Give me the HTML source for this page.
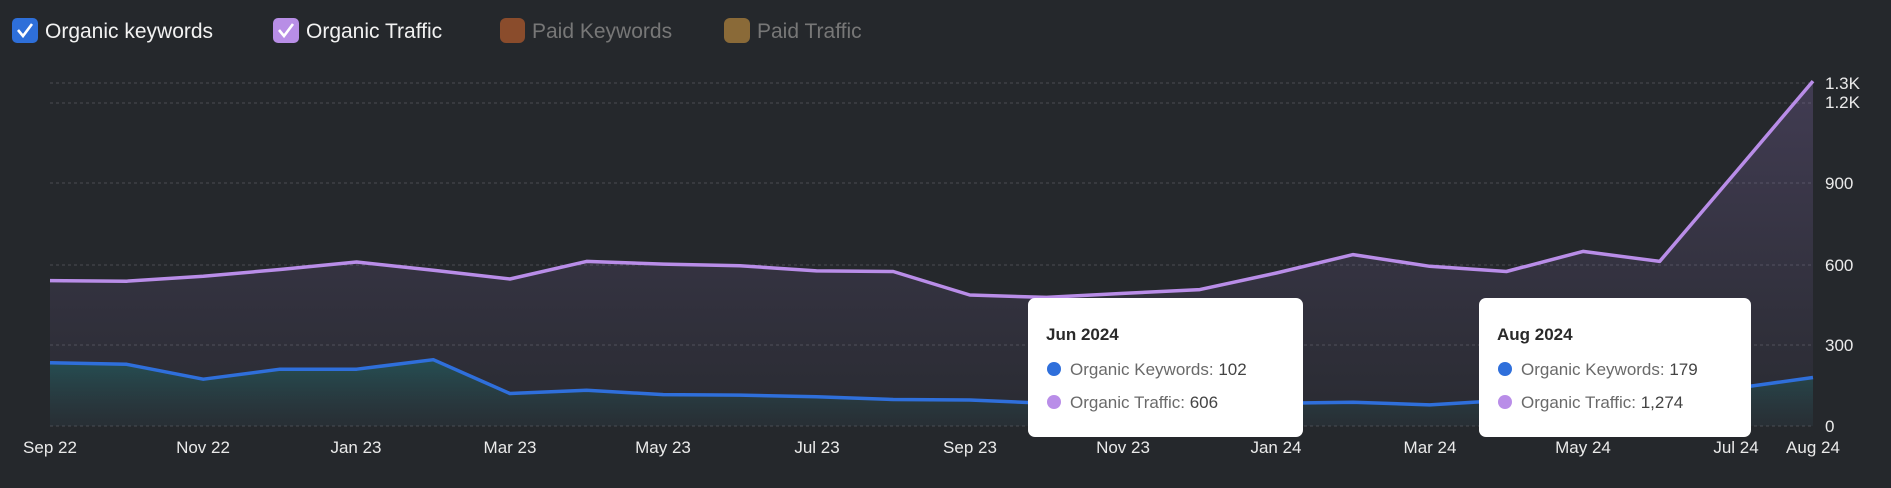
<!DOCTYPE html>
<html><head><meta charset="utf-8"><style>
html,body{margin:0;padding:0;background:#25282c;}
svg{display:block;font-family:"Liberation Sans",sans-serif;}
</style></head><body>
<svg width="1891" height="488" viewBox="0 0 1891 488" xmlns="http://www.w3.org/2000/svg">
<defs>
<linearGradient id="gp" x1="0" y1="0" x2="0" y2="1">
<stop offset="0" stop-color="#8a6fb5" stop-opacity="0.28"/>
<stop offset="1" stop-color="#8a6fb5" stop-opacity="0.04"/>
</linearGradient>
<linearGradient id="gb" x1="0" y1="0" x2="0" y2="1">
<stop offset="0" stop-color="#1f6a6a" stop-opacity="0.55"/>
<stop offset="1" stop-color="#1f5050" stop-opacity="0.1"/>
</linearGradient>
</defs>
<rect width="1891" height="488" fill="#25282c"/>
<!-- legend -->
<rect x="12" y="18" width="26" height="25" rx="5" fill="#2e6fd9"/>
<path d="M18 30 l5 6 l9 -12" stroke="#fff" stroke-width="2.6" fill="none"/>
<text x="45" y="38" font-size="21" fill="#f2f2f2">Organic keywords</text>
<rect x="273" y="18" width="26" height="25" rx="5" fill="#b88ee6"/>
<path d="M279 30 l5 6 l9 -12" stroke="#fff" stroke-width="2.6" fill="none"/>
<text x="306" y="38" font-size="21" fill="#f2f2f2">Organic Traffic</text>
<rect x="500" y="18" width="25" height="25" rx="6" fill="#8a4c2c"/>
<text x="532" y="38" font-size="21" fill="#777">Paid Keywords</text>
<rect x="724" y="18" width="26" height="25" rx="6" fill="#8a6a38"/>
<text x="757" y="38" font-size="21" fill="#777">Paid Traffic</text>
<!-- grid -->
<g stroke="#4a4d52" stroke-width="1" stroke-dasharray="3,3">
<line x1="50" x2="1813" y1="83" y2="83"/>
<line x1="50" x2="1813" y1="103" y2="103"/>
<line x1="50" x2="1813" y1="183" y2="183"/>
<line x1="50" x2="1813" y1="265" y2="265"/>
<line x1="50" x2="1813" y1="345" y2="345"/>
<line x1="50" x2="1813" y1="426" y2="426"/>
</g>
<g font-size="17" fill="#eaeaea">
<text x="1825" y="89">1.3K</text>
<text x="1825" y="108">1.2K</text>
<text x="1825" y="189">900</text>
<text x="1825" y="271">600</text>
<text x="1825" y="351">300</text>
<text x="1825" y="432">0</text>
</g>
<!-- areas -->
<path id="pt" fill="url(#gp)" d="M50,280.6 L126.7,281.2 L203.3,276.3 L280,269.5 L356.6,262 L433.3,270.3 L509.9,279 L586.6,261.4 L663.2,264.1 L739.9,265.7 L816.5,270.9 L893.2,271.5 L969.8,295 L1046.5,297.4 L1123.1,293.4 L1199.8,289.6 L1276.4,273 L1353.1,254.6 L1429.7,266.3 L1506.4,271.5 L1583,251.4 L1659.7,261.4 L1736.3,171.5 L1813,81.1 L1813,426 L50,426 Z"/>
<path fill="url(#gb)" d="M50,362.7 L126.7,364.3 L203.3,379.2 L280,369.2 L356.6,369.2 L433.3,359.7 L509.9,393.5 L586.6,390.3 L663.2,394.6 L739.9,395.1 L816.5,396.8 L893.2,399.5 L969.8,400 L1046.5,403.3 L1123.1,404.3 L1199.8,403 L1276.4,403.3 L1353.1,402.2 L1429.7,404.9 L1506.4,400.3 L1583,396.2 L1659.7,398.4 L1736.3,388.1 L1813,377.5 L1813,426 L50,426 Z"/>
<polyline fill="none" stroke="#b98de8" stroke-width="3.5" stroke-linejoin="round" points="50,280.6 126.7,281.2 203.3,276.3 280,269.5 356.6,262 433.3,270.3 509.9,279 586.6,261.4 663.2,264.1 739.9,265.7 816.5,270.9 893.2,271.5 969.8,295 1046.5,297.4 1123.1,293.4 1199.8,289.6 1276.4,273 1353.1,254.6 1429.7,266.3 1506.4,271.5 1583,251.4 1659.7,261.4 1736.3,171.5 1813,81.1"/>
<polyline fill="none" stroke="#2f6fdb" stroke-width="3.5" stroke-linejoin="round" points="50,362.7 126.7,364.3 203.3,379.2 280,369.2 356.6,369.2 433.3,359.7 509.9,393.5 586.6,390.3 663.2,394.6 739.9,395.1 816.5,396.8 893.2,399.5 969.8,400 1046.5,403.3 1123.1,404.3 1199.8,403 1276.4,403.3 1353.1,402.2 1429.7,404.9 1506.4,400.3 1583,396.2 1659.7,398.4 1736.3,388.1 1813,377.5"/>
<!-- x labels -->
<g font-size="17" fill="#eaeaea" text-anchor="middle">
<text x="50" y="453">Sep 22</text>
<text x="203" y="453">Nov 22</text>
<text x="356" y="453">Jan 23</text>
<text x="510" y="453">Mar 23</text>
<text x="663" y="453">May 23</text>
<text x="817" y="453">Jul 23</text>
<text x="970" y="453">Sep 23</text>
<text x="1123" y="453">Nov 23</text>
<text x="1276" y="453">Jan 24</text>
<text x="1430" y="453">Mar 24</text>
<text x="1583" y="453">May 24</text>
<text x="1736" y="453">Jul 24</text>
<text x="1813" y="453">Aug 24</text>
</g>
<!-- tooltips -->
<g>
<rect x="1028" y="298" width="275" height="139" rx="7" fill="#fff"/>
<text x="1046" y="340" font-size="17" font-weight="bold" fill="#2a2a2a">Jun 2024</text>
<circle cx="1054" cy="369" r="7" fill="#2f6fdb"/>
<text x="1070" y="375" font-size="17" fill="#6a6a6a">Organic Keywords: <tspan fill="#444">102</tspan></text>
<circle cx="1054" cy="402" r="7" fill="#b98de8"/>
<text x="1070" y="408" font-size="17" fill="#6a6a6a">Organic Traffic: <tspan fill="#444">606</tspan></text>
</g>
<g>
<rect x="1479" y="298" width="272" height="139" rx="7" fill="#fff"/>
<text x="1497" y="340" font-size="17" font-weight="bold" fill="#2a2a2a">Aug 2024</text>
<circle cx="1505" cy="369" r="7" fill="#2f6fdb"/>
<text x="1521" y="375" font-size="17" fill="#6a6a6a">Organic Keywords: <tspan fill="#444">179</tspan></text>
<circle cx="1505" cy="402" r="7" fill="#b98de8"/>
<text x="1521" y="408" font-size="17" fill="#6a6a6a">Organic Traffic: <tspan fill="#444">1,274</tspan></text>
</g>
</svg>
</body></html>
